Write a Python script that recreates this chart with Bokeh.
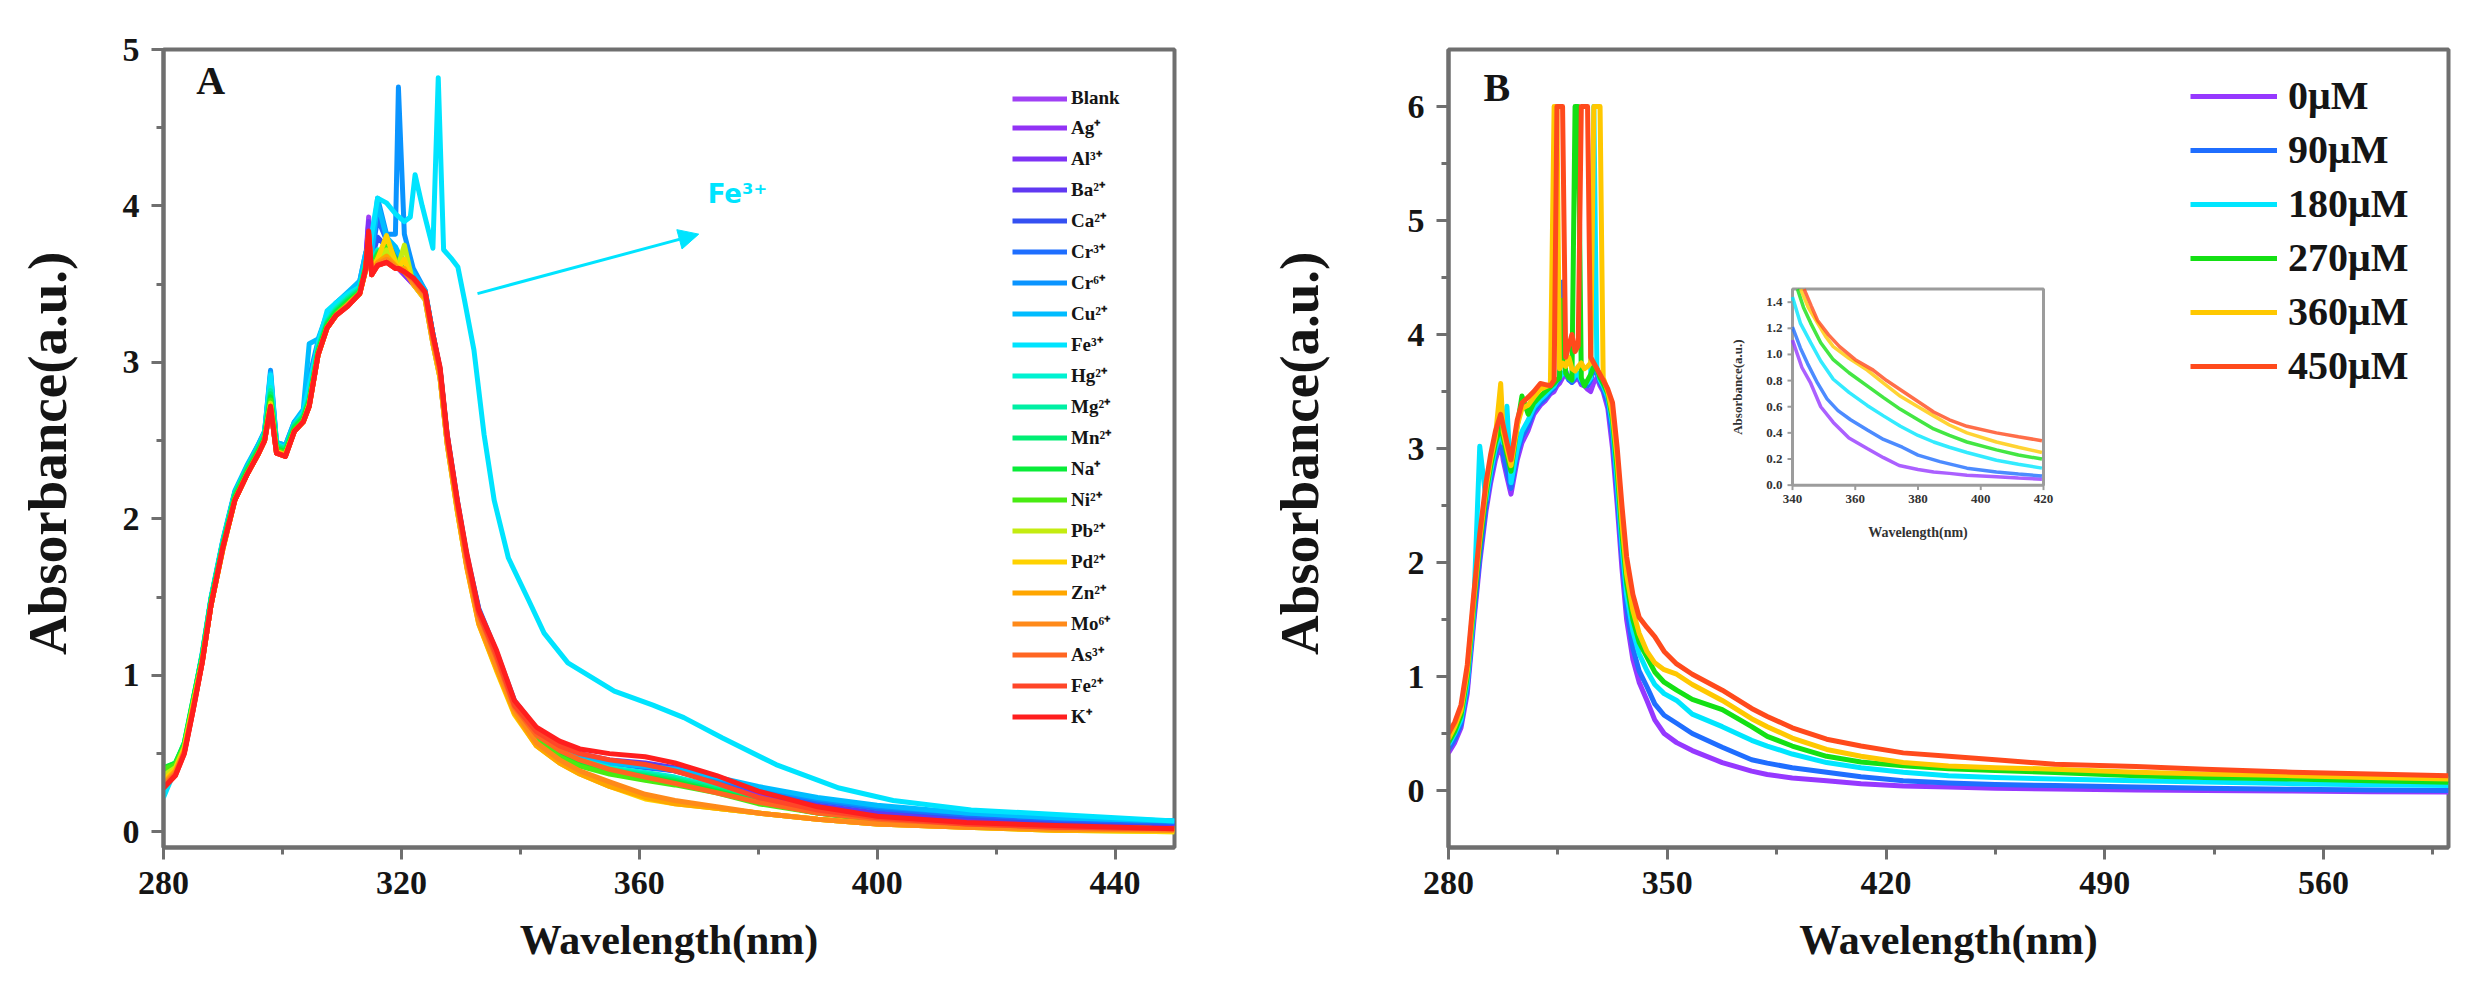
import math
from bokeh.plotting import figure
from bokeh.models import Range1d, FixedTicker, Legend, LegendItem, Arrow, NormalHead, Label
from bokeh.layouts import row
from bokeh.embed import file_html
from bokeh.resources import INLINE
from bokeh.core.properties import value

SERIF = "Liberation Serif"
AXIS_GRAY = "#6f6f6f"
TEXT_DARK = "#151515"
PAGE_H = 1004

# ---------------- Panel A: response to different metal ions ----------------
WL_A = [280, 282, 283.5, 285, 286.5, 288, 290, 292, 294, 296, 297, 298, 299, 300.5, 302, 303.5, 304.5, 306, 307.5, 309, 311, 313,
        314, 314.5, 315, 316, 317.5, 319, 319.5, 320.5, 322, 324, 325.3, 326.5, 327.7, 329.4,
        331, 333, 336, 339, 342.7, 346.6, 350, 355, 361, 366, 373, 380, 390, 400, 415, 430, 450]

A_BLANK = [0.30, 0.38, 0.52, 0.80, 1.10, 1.47, 1.84, 2.14, 2.30, 2.44, 2.52, 2.80, 2.45, 2.43, 2.58, 2.64, 2.75, 3.08, 3.25, 3.33, 3.40, 3.47,
           3.66, 3.93, 3.62, 3.70, 3.66, 3.62, 3.60, 3.56, 3.50, 3.40, 3.12, 2.90, 2.48, 2.06,
           1.70, 1.36, 1.08, 0.79, 0.61, 0.53, 0.48, 0.44, 0.42, 0.39, 0.32, 0.24, 0.16, 0.11, 0.07, 0.05, 0.04]
A_AG = [0.29, 0.37, 0.51, 0.79, 1.09, 1.46, 1.83, 2.13, 2.29, 2.43, 2.51, 2.78, 2.44, 2.42, 2.57, 2.63, 2.74, 3.07, 3.24, 3.32, 3.39, 3.46,
        3.64, 3.88, 3.60, 3.68, 3.65, 3.61, 3.60, 3.56, 3.50, 3.41, 3.14, 2.91, 2.49, 2.07,
        1.71, 1.37, 1.09, 0.80, 0.62, 0.54, 0.48, 0.44, 0.42, 0.39, 0.32, 0.24, 0.15, 0.10, 0.06, 0.04, 0.03]
A_AL = [0.30, 0.38, 0.52, 0.80, 1.10, 1.46, 1.83, 2.14, 2.30, 2.44, 2.52, 2.79, 2.45, 2.42, 2.57, 2.64, 2.76, 3.09, 3.25, 3.33, 3.40, 3.47,
        3.64, 3.90, 3.61, 3.69, 3.66, 3.62, 3.61, 3.57, 3.51, 3.42, 3.16, 2.93, 2.51, 2.09,
        1.73, 1.39, 1.11, 0.81, 0.63, 0.55, 0.49, 0.45, 0.43, 0.40, 0.33, 0.25, 0.16, 0.11, 0.07, 0.05, 0.04]
A_BA = [0.31, 0.39, 0.53, 0.81, 1.11, 1.47, 1.84, 2.15, 2.31, 2.45, 2.53, 2.82, 2.46, 2.44, 2.59, 2.65, 2.78, 3.10, 3.26, 3.34, 3.41, 3.48,
        3.65, 3.80, 3.63, 3.71, 3.70, 3.64, 3.62, 3.58, 3.52, 3.43, 3.17, 2.94, 2.52, 2.10,
        1.75, 1.40, 1.12, 0.82, 0.64, 0.55, 0.50, 0.46, 0.44, 0.41, 0.34, 0.26, 0.17, 0.12, 0.08, 0.06, 0.05]
A_CA = [0.32, 0.40, 0.54, 0.82, 1.12, 1.48, 1.85, 2.16, 2.32, 2.46, 2.54, 2.86, 2.47, 2.45, 2.60, 2.66, 2.80, 3.11, 3.28, 3.35, 3.42, 3.49,
        3.66, 3.78, 3.66, 3.80, 3.74, 3.68, 3.66, 3.60, 3.54, 3.44, 3.18, 2.95, 2.53, 2.11,
        1.76, 1.42, 1.14, 0.83, 0.65, 0.54, 0.49, 0.45, 0.43, 0.40, 0.33, 0.27, 0.20, 0.15, 0.10, 0.07, 0.06]
A_CR3 = [0.33, 0.41, 0.55, 0.83, 1.13, 1.49, 1.86, 2.17, 2.33, 2.47, 2.55, 2.90, 2.48, 2.46, 2.61, 2.67, 2.84, 3.12, 3.29, 3.36, 3.43, 3.50,
         3.68, 3.76, 3.68, 3.92, 3.78, 3.72, 3.70, 3.64, 3.56, 3.45, 3.18, 2.96, 2.54, 2.12,
         1.77, 1.43, 1.15, 0.84, 0.66, 0.53, 0.48, 0.44, 0.41, 0.39, 0.33, 0.27, 0.20, 0.15, 0.11, 0.08, 0.06]
A_CR6 = [0.33, 0.41, 0.55, 0.83, 1.13, 1.49, 1.86, 2.17, 2.33, 2.48, 2.56, 2.95, 2.49, 2.47, 2.62, 2.68, 2.90, 3.14, 3.30, 3.38, 3.44, 3.52,
         3.70, 3.75, 3.72, 4.05, 3.82, 3.82, 4.76, 3.82, 3.60, 3.46, 3.18, 2.95, 2.52, 2.10,
         1.75, 1.41, 1.13, 0.83, 0.65, 0.52, 0.47, 0.44, 0.42, 0.40, 0.34, 0.28, 0.21, 0.16, 0.12, 0.09, 0.07]
A_CU = [0.34, 0.42, 0.56, 0.84, 1.14, 1.50, 1.87, 2.18, 2.34, 2.48, 2.56, 2.93, 2.49, 2.47, 2.62, 2.70, 3.12, 3.15, 3.31, 3.38, 3.45, 3.52,
        3.70, 3.74, 3.70, 4.02, 3.80, 3.74, 3.70, 3.64, 3.57, 3.46, 3.18, 2.95, 2.52, 2.10,
        1.74, 1.40, 1.12, 0.82, 0.64, 0.52, 0.47, 0.44, 0.42, 0.40, 0.35, 0.29, 0.22, 0.17, 0.12, 0.09, 0.07]
A_HG = [0.36, 0.42, 0.56, 0.84, 1.13, 1.49, 1.85, 2.16, 2.32, 2.46, 2.54, 2.84, 2.47, 2.45, 2.60, 2.66, 2.78, 3.10, 3.27, 3.35, 3.42, 3.48,
        3.64, 3.72, 3.64, 3.72, 3.70, 3.64, 3.62, 3.58, 3.52, 3.43, 3.16, 2.93, 2.51, 2.09,
        1.74, 1.39, 1.10, 0.80, 0.62, 0.52, 0.46, 0.41, 0.38, 0.35, 0.29, 0.21, 0.14, 0.09, 0.05, 0.03, 0.02]
A_MG = [0.38, 0.43, 0.57, 0.85, 1.13, 1.49, 1.85, 2.16, 2.32, 2.46, 2.54, 2.82, 2.47, 2.45, 2.60, 2.66, 2.77, 3.09, 3.26, 3.34, 3.41, 3.47,
        3.63, 3.74, 3.63, 3.71, 3.72, 3.64, 3.62, 3.58, 3.52, 3.43, 3.16, 2.93, 2.51, 2.09,
        1.73, 1.38, 1.09, 0.79, 0.61, 0.51, 0.45, 0.40, 0.37, 0.34, 0.28, 0.20, 0.13, 0.08, 0.05, 0.03, 0.02]
A_MN = [0.40, 0.44, 0.57, 0.85, 1.12, 1.48, 1.84, 2.15, 2.31, 2.45, 2.53, 2.80, 2.46, 2.44, 2.59, 2.65, 2.76, 3.08, 3.25, 3.33, 3.40, 3.46,
        3.62, 3.76, 3.62, 3.70, 3.74, 3.66, 3.62, 3.58, 3.52, 3.43, 3.16, 2.93, 2.51, 2.09,
        1.73, 1.38, 1.09, 0.79, 0.61, 0.50, 0.44, 0.39, 0.36, 0.33, 0.27, 0.20, 0.13, 0.08, 0.05, 0.03, 0.02]
A_NA = [0.41, 0.44, 0.56, 0.84, 1.11, 1.47, 1.83, 2.14, 2.30, 2.44, 2.52, 2.78, 2.45, 2.43, 2.58, 2.64, 2.75, 3.07, 3.24, 3.32, 3.39, 3.45,
        3.61, 3.78, 3.61, 3.69, 3.76, 3.66, 3.62, 3.58, 3.52, 3.43, 3.16, 2.93, 2.51, 2.09,
        1.72, 1.37, 1.08, 0.78, 0.60, 0.49, 0.43, 0.38, 0.35, 0.32, 0.26, 0.19, 0.12, 0.08, 0.05, 0.03, 0.02]
A_NI = [0.40, 0.43, 0.55, 0.83, 1.10, 1.46, 1.82, 2.13, 2.29, 2.43, 2.51, 2.76, 2.44, 2.42, 2.57, 2.63, 2.74, 3.06, 3.23, 3.31, 3.38, 3.45,
        3.60, 3.80, 3.60, 3.68, 3.78, 3.66, 3.62, 3.60, 3.52, 3.43, 3.16, 2.93, 2.51, 2.09,
        1.72, 1.37, 1.08, 0.78, 0.59, 0.48, 0.42, 0.37, 0.33, 0.30, 0.25, 0.18, 0.12, 0.07, 0.04, 0.02, 0.01]
A_PB = [0.36, 0.41, 0.54, 0.82, 1.09, 1.45, 1.81, 2.12, 2.28, 2.42, 2.50, 2.74, 2.43, 2.41, 2.56, 2.62, 2.73, 3.05, 3.22, 3.30, 3.37, 3.44,
        3.59, 3.78, 3.58, 3.66, 3.72, 3.64, 3.62, 3.75, 3.50, 3.40, 3.12, 2.90, 2.48, 2.05,
        1.70, 1.34, 1.04, 0.76, 0.56, 0.45, 0.38, 0.30, 0.22, 0.19, 0.15, 0.12, 0.08, 0.05, 0.03, 0.01, 0.00]
A_PD = [0.33, 0.40, 0.53, 0.81, 1.09, 1.45, 1.81, 2.12, 2.28, 2.42, 2.50, 2.73, 2.43, 2.41, 2.56, 2.62, 2.73, 3.05, 3.22, 3.30, 3.37, 3.44,
        3.59, 3.80, 3.58, 3.66, 3.81, 3.64, 3.60, 3.66, 3.50, 3.40, 3.12, 2.90, 2.48, 2.05,
        1.69, 1.33, 1.03, 0.75, 0.55, 0.44, 0.37, 0.29, 0.21, 0.18, 0.15, 0.12, 0.08, 0.05, 0.03, 0.01, 0.00]
A_ZN = [0.31, 0.39, 0.52, 0.80, 1.09, 1.45, 1.81, 2.12, 2.28, 2.42, 2.50, 2.72, 2.42, 2.41, 2.56, 2.62, 2.72, 3.05, 3.22, 3.30, 3.37, 3.44,
        3.59, 3.80, 3.57, 3.64, 3.68, 3.62, 3.60, 3.60, 3.50, 3.41, 3.13, 2.91, 2.49, 2.06,
        1.69, 1.33, 1.04, 0.76, 0.55, 0.44, 0.37, 0.29, 0.22, 0.18, 0.15, 0.12, 0.08, 0.05, 0.03, 0.01, 0.01]
A_MO = [0.30, 0.38, 0.51, 0.79, 1.08, 1.45, 1.81, 2.12, 2.28, 2.42, 2.50, 2.72, 2.42, 2.40, 2.56, 2.62, 2.72, 3.05, 3.22, 3.30, 3.37, 3.44,
        3.59, 3.82, 3.56, 3.63, 3.66, 3.61, 3.60, 3.58, 3.51, 3.42, 3.14, 2.93, 2.50, 2.08,
        1.71, 1.35, 1.06, 0.78, 0.57, 0.46, 0.39, 0.32, 0.24, 0.20, 0.16, 0.12, 0.08, 0.05, 0.03, 0.02, 0.01]
A_AS = [0.29, 0.37, 0.51, 0.79, 1.08, 1.45, 1.82, 2.12, 2.28, 2.42, 2.50, 2.72, 2.42, 2.40, 2.56, 2.62, 2.72, 3.05, 3.22, 3.30, 3.36, 3.44,
        3.60, 3.82, 3.56, 3.62, 3.64, 3.60, 3.60, 3.58, 3.53, 3.44, 3.16, 2.95, 2.52, 2.10,
        1.75, 1.39, 1.11, 0.80, 0.62, 0.52, 0.46, 0.40, 0.35, 0.31, 0.25, 0.19, 0.12, 0.08, 0.05, 0.03, 0.02]
A_FE2 = [0.28, 0.36, 0.50, 0.78, 1.08, 1.45, 1.82, 2.12, 2.28, 2.42, 2.50, 2.71, 2.42, 2.40, 2.56, 2.62, 2.72, 3.05, 3.22, 3.30, 3.36, 3.44,
         3.60, 3.83, 3.56, 3.62, 3.64, 3.60, 3.60, 3.58, 3.54, 3.45, 3.17, 2.96, 2.53, 2.11,
         1.76, 1.40, 1.13, 0.81, 0.64, 0.55, 0.50, 0.46, 0.43, 0.39, 0.31, 0.22, 0.14, 0.09, 0.05, 0.03, 0.02]
A_K = [0.28, 0.36, 0.50, 0.78, 1.08, 1.45, 1.82, 2.12, 2.28, 2.42, 2.50, 2.72, 2.42, 2.40, 2.56, 2.62, 2.72, 3.05, 3.22, 3.30, 3.36, 3.44,
       3.60, 3.84, 3.56, 3.62, 3.64, 3.60, 3.60, 3.58, 3.54, 3.45, 3.18, 2.97, 2.54, 2.12,
       1.78, 1.42, 1.16, 0.84, 0.67, 0.58, 0.53, 0.50, 0.48, 0.44, 0.36, 0.26, 0.16, 0.10, 0.06, 0.04, 0.02]

# Fe3+ is sampled on its own, finer grid around its sharp peaks
WL_FE3 = [280, 282, 283.5, 285, 286.5, 288, 290, 292, 294, 296, 297, 298, 299, 300.5, 302, 303.5, 304.5, 306, 307.5, 309, 311, 313,
          314.5, 316, 317.5, 319, 320.5, 321.5, 322.3, 323.5, 325.3, 326.2, 327.1, 328.5, 329.5, 330.6, 332.2, 333.9, 335.6, 338,
          341.4, 344, 348, 355.8, 362.3, 367.5, 374, 383, 393.6, 402.7, 415.8, 435.5, 450]
A_FE3 = [0.22, 0.40, 0.55, 0.82, 1.12, 1.48, 1.86, 2.16, 2.32, 2.46, 2.55, 2.92, 2.48, 2.45, 2.60, 2.68, 2.85, 3.12, 3.33, 3.38, 3.44, 3.48,
         3.70, 4.05, 4.02, 3.95, 3.90, 3.93, 4.20, 4.00, 3.73, 4.82, 3.72, 3.66, 3.61, 3.40, 3.08, 2.54, 2.12, 1.75,
         1.48, 1.27, 1.08, 0.90, 0.81, 0.73, 0.60, 0.43, 0.28, 0.20, 0.14, 0.10, 0.07]

ION_LABELS = ["Blank", "Ag⁺", "Al³⁺", "Ba²⁺", "Ca²⁺", "Cr³⁺", "Cr⁶⁺", "Cu²⁺", "Fe³⁺", "Hg²⁺", "Mg²⁺",
              "Mn²⁺", "Na⁺", "Ni²⁺", "Pb²⁺", "Pd²⁺", "Zn²⁺", "Mo⁶⁺", "As³⁺", "Fe²⁺", "K⁺"]
ION_SERIES = [A_BLANK, A_AG, A_AL, A_BA, A_CA, A_CR3, A_CR6, A_CU, A_FE3, A_HG, A_MG,
              A_MN, A_NA, A_NI, A_PB, A_PD, A_ZN, A_MO, A_AS, A_FE2, A_K]
ION_COLORS = ["#A040F5", "#9232F5", "#7E32F5", "#6038F2", "#3450F2", "#1E6EFF", "#0A94FF", "#00BCFF", "#00E4FF",
              "#00F2D2", "#00F0A4", "#00EE74", "#08EC38", "#48EC12", "#C4EC10", "#FFD200", "#FFA600", "#FF8A1A",
              "#FF6622", "#FF4628", "#FF1E1E"]

A_XTICKS = [280, 320, 360, 400, 440]
A_XMINOR = [300, 340, 380, 420]
A_YTICKS = [0, 1, 2, 3, 4, 5]
A_YMINOR = [0.5, 1.5, 2.5, 3.5, 4.5]

# ---------------- Panel B: Fe3+ titration ----------------
WL_B = [280, 282, 284, 286, 288, 290, 292, 293.5, 295, 296.7,
        297.5, 298.7, 300, 302, 303.5, 305.5, 307.3, 309.4, 311, 312.6,
        313.8, 314.7, 315.5, 316.5, 317.5, 318.5, 319.5, 320.5, 321.5, 322.5,
        323.5, 324.5, 325.5, 326.5, 327.5, 328.5, 329.5, 331, 332.5, 334,
        335.5, 337, 339, 341, 343.5, 346, 349, 353, 358, 367.6,
        377, 382, 390, 401, 412, 425.5, 440, 455, 474, 500,
        522, 550, 575, 600]
B_0UM = [0.33, 0.42, 0.55, 0.85, 1.45, 2.00, 2.45, 2.70, 2.90, 3.05,
         2.90, 2.75, 2.60, 2.90, 3.05, 3.16, 3.30, 3.38, 3.42, 3.48,
         3.50, 3.55, 3.57, 3.62, 3.68, 3.62, 3.58, 3.60, 3.62, 3.56,
         3.55, 3.52, 3.50, 3.58, 3.62, 3.55, 3.50, 3.35, 3.00, 2.50,
         1.95, 1.50, 1.15, 0.95, 0.79, 0.62, 0.50, 0.42, 0.35, 0.245,
         0.17, 0.14, 0.11, 0.086, 0.06, 0.04, 0.03, 0.02, 0.014, 0.005,
         0.0, -0.005, -0.01, -0.014]
B_90UM = [0.36, 0.45, 0.58, 0.90, 1.50, 2.05, 2.50, 2.75, 2.95, 3.10,
          2.95, 2.80, 2.65, 2.95, 3.10, 3.20, 3.33, 3.40, 3.44, 3.50,
          3.53, 3.58, 3.60, 4.46, 3.65, 3.60, 3.58, 3.62, 3.65, 3.58,
          3.56, 3.55, 3.60, 3.70, 3.66, 3.58, 3.52, 3.40, 3.10, 2.60,
          2.05, 1.60, 1.25, 1.05, 0.91, 0.76, 0.66, 0.59, 0.50, 0.38,
          0.27, 0.24, 0.20, 0.16, 0.12, 0.086, 0.065, 0.052, 0.043, 0.03,
          0.02, 0.01, 0.005, 0.0]
B_180UM = [0.40, 0.50, 0.62, 0.95, 1.55, 3.02, 2.55, 2.80, 3.00, 3.15,
           3.05, 3.37, 2.70, 3.00, 3.15, 3.25, 3.36, 3.43, 3.47, 3.52,
           3.55, 3.60, 3.62, 3.66, 3.66, 3.62, 3.60, 3.64, 3.66, 3.60,
           3.58, 3.58, 3.62, 6.00, 3.70, 3.60, 3.55, 3.45, 3.20, 2.70,
           2.15, 1.72, 1.40, 1.20, 1.05, 0.93, 0.85, 0.79, 0.67, 0.56,
           0.44, 0.39, 0.32, 0.245, 0.20, 0.16, 0.13, 0.115, 0.10, 0.085,
           0.075, 0.06, 0.05, 0.043]
B_270UM = [0.42, 0.52, 0.66, 1.00, 1.60, 2.15, 2.60, 2.85, 3.05, 3.20,
           3.10, 2.95, 2.80, 3.20, 3.46, 3.30, 3.40, 3.46, 3.50, 3.54,
           3.57, 3.60, 3.62, 4.30, 3.66, 3.62, 3.60, 6.00, 6.00, 3.62,
           3.55, 3.60, 3.65, 3.72, 3.70, 3.62, 3.57, 3.48, 3.25, 2.80,
           2.25, 1.82, 1.50, 1.30, 1.17, 1.04, 0.95, 0.88, 0.80, 0.71,
           0.56, 0.475, 0.39, 0.30, 0.25, 0.216, 0.19, 0.175, 0.158, 0.13,
           0.115, 0.10, 0.085, 0.072]
B_360UM = [0.45, 0.56, 0.70, 1.05, 1.65, 2.20, 2.65, 2.90, 3.10, 3.57,
           3.15, 3.00, 2.85, 3.20, 3.35, 3.38, 3.45, 3.52, 3.54, 3.56,
           6.00, 6.00, 3.70, 3.75, 3.72, 3.80, 3.70, 3.68, 3.72, 3.75,
           3.70, 3.72, 3.75, 6.00, 6.00, 6.00, 3.62, 3.50, 3.30, 2.90,
           2.35, 1.90, 1.58, 1.38, 1.22, 1.12, 1.06, 1.02, 0.93, 0.79,
           0.63, 0.56, 0.46, 0.36, 0.30, 0.245, 0.215, 0.20, 0.187, 0.16,
           0.145, 0.13, 0.115, 0.10]
B_450UM = [0.50, 0.60, 0.75, 1.10, 1.70, 2.25, 2.70, 2.95, 3.15, 3.30,
           3.20, 3.05, 2.90, 3.25, 3.40, 3.45, 3.50, 3.57, 3.56, 3.55,
           3.60, 6.00, 6.00, 6.00, 3.80, 3.90, 4.00, 3.85, 3.90, 6.00,
           6.00, 6.00, 3.80, 3.75, 3.70, 3.65, 3.60, 3.52, 3.40, 3.00,
           2.50, 2.05, 1.72, 1.52, 1.43, 1.35, 1.22, 1.11, 1.02, 0.88,
           0.72, 0.65, 0.55, 0.45, 0.39, 0.33, 0.30, 0.27, 0.23, 0.21,
           0.187, 0.16, 0.145, 0.13]

CONC_LABELS = ["0μM", "90μM", "180μM", "270μM", "360μM", "450μM"]
CONC_SERIES = [B_0UM, B_90UM, B_180UM, B_270UM, B_360UM, B_450UM]
CONC_COLORS = ["#9638FF", "#1F6EFF", "#00E6FF", "#14E014", "#FFC800", "#FF4A1C"]

B_XTICKS = [280, 350, 420, 490, 560]
B_XMINOR = [315, 385, 455, 525, 595]
B_YTICKS = [0, 1, 2, 3, 4, 5, 6]
B_YMINOR = [0.5, 1.5, 2.5, 3.5, 4.5, 5.5]

# Inset: zoom on the 340-420 nm tail
INSET_WL = [
    [340, 343, 345.8, 349, 353, 358, 363.8, 369, 374, 380, 385, 390, 395.6, 405, 412, 419.5],
    [340, 342.5, 344.8, 348, 351, 354.5, 358.5, 364, 369, 375, 380, 387, 395.6, 405, 412, 419.5],
    [340, 342.5, 345.8, 349, 353, 358, 363.8, 369, 374.4, 380, 385, 390, 395.6, 405, 412, 419.5],
    [341.6, 343.5, 345.8, 349, 353, 358, 363.8, 369, 374.4, 380, 385, 390, 395.6, 405, 412, 419.5],
    [342.6, 345, 348, 350.5, 353, 358, 363.8, 369, 374.4, 380, 385, 390, 395.6, 405, 412, 419.5],
    [343.7, 346, 348, 351.5, 355, 360, 365.7, 370, 374.4, 380, 385, 390, 395.6, 405, 412, 419.5],
]
INSET_ABS = [
    [1.11, 0.90, 0.78, 0.60, 0.48, 0.36, 0.28, 0.21, 0.15, 0.12, 0.10, 0.09, 0.076, 0.065, 0.055, 0.045],
    [1.21, 1.05, 0.93, 0.78, 0.66, 0.57, 0.50, 0.42, 0.35, 0.29, 0.23, 0.18, 0.13, 0.10, 0.085, 0.07],
    [1.44, 1.24, 1.09, 0.95, 0.81, 0.71, 0.61, 0.53, 0.45, 0.38, 0.33, 0.29, 0.25, 0.19, 0.16, 0.13],
    [1.50, 1.36, 1.24, 1.09, 0.96, 0.86, 0.76, 0.67, 0.58, 0.50, 0.43, 0.38, 0.33, 0.27, 0.23, 0.20],
    [1.50, 1.36, 1.24, 1.14, 1.06, 0.97, 0.88, 0.78, 0.68, 0.60, 0.53, 0.46, 0.40, 0.33, 0.29, 0.25],
    [1.50, 1.37, 1.26, 1.15, 1.06, 0.96, 0.88, 0.80, 0.73, 0.64, 0.56, 0.50, 0.45, 0.40, 0.37, 0.34],
]
INSET_XTICKS = [340, 360, 380, 400, 420]
INSET_YTICKS = [0.0, 0.2, 0.4, 0.6, 0.8, 1.0, 1.2, 1.4]
INSET_X_RANGE = (340, 420)
INSET_Y_RANGE = (0.0, 1.5)


def style_axes(p, xt, xm, yt, ym):
    p.xgrid.visible = False
    p.ygrid.visible = False
    p.outline_line_color = AXIS_GRAY
    p.outline_line_width = 4
    p.outline_line_alpha = 1.0
    p.background_fill_color = "white"
    p.border_fill_color = "white"
    p.xaxis.ticker = FixedTicker(ticks=xt, minor_ticks=xm)
    p.yaxis.ticker = FixedTicker(ticks=yt, minor_ticks=ym)
    for ax in (p.xaxis[0], p.yaxis[0]):
        ax.axis_line_color = AXIS_GRAY
        ax.axis_line_width = 4
        ax.major_tick_line_color = AXIS_GRAY
        ax.major_tick_line_width = 3
        ax.major_tick_in = 0
        ax.major_tick_out = 12
        ax.minor_tick_line_color = AXIS_GRAY
        ax.minor_tick_line_width = 3
        ax.minor_tick_in = 0
        ax.minor_tick_out = 7
        ax.major_label_text_font = SERIF
        ax.major_label_text_font_style = "bold"
        ax.major_label_text_font_size = "34px"
        ax.major_label_text_color = TEXT_DARK
        ax.major_label_standoff = 12
    xa = p.xaxis[0]
    xa.axis_label_text_font = SERIF
    xa.axis_label_text_font_style = "bold"
    xa.axis_label_text_color = TEXT_DARK
    xa.axis_label_text_font_size = "42px"
    xa.axis_label_standoff = 20


def y_title_strip(width, x_center, y_anchor_from_top):
    """Narrow strip beside a panel carrying its rotated y-axis title."""
    s = figure(width=width, height=PAGE_H, output_backend="svg", toolbar_location=None,
               x_range=Range1d(0, width), y_range=Range1d(0, PAGE_H),
               x_axis_type=None, y_axis_type=None, min_border=0)
    s.xgrid.visible = False
    s.ygrid.visible = False
    s.outline_line_color = None
    s.background_fill_color = "white"
    s.border_fill_color = "white"
    s.text(x=[x_center], y=[PAGE_H - y_anchor_from_top], text=["Absorbance(a.u.)"],
           angle=math.pi / 2, text_align="center", text_baseline="middle",
           text_font=value(SERIF), text_font_style="bold", text_font_size="55px",
           text_color=TEXT_DARK)
    return s


# ---------------- build panel A ----------------
title_a = y_title_strip(100, 47, 508)
pa = figure(width=1154, height=PAGE_H, output_backend="svg", toolbar_location=None,
            x_range=Range1d(280, 450), y_range=Range1d(-0.1, 5.0),
            min_border_left=63, min_border_right=80, min_border_top=49, min_border_bottom=157,
            x_axis_label="Wavelength(nm)")
style_axes(pa, A_XTICKS, A_XMINOR, A_YTICKS, A_YMINOR)

items_a = []
for label, ys, color in zip(ION_LABELS, ION_SERIES, ION_COLORS):
    xs = WL_FE3 if label == "Fe³⁺" else WL_A
    r = pa.line(xs, ys, line_color=color, line_width=5, line_join="round")
    items_a.append(LegendItem(label=label, renderers=[r]))

legend_a = Legend(items=items_a, location=(849, 118), orientation="vertical",
                  glyph_width=55, glyph_height=21, label_height=21, spacing=5,
                  label_standoff=4, padding=0, margin=0,
                  label_text_font=SERIF, label_text_font_style="bold",
                  label_text_font_size="19px", label_text_color=TEXT_DARK,
                  border_line_color=None, background_fill_alpha=0)
pa.add_layout(legend_a)

FE3_CYAN = "#00E4FF"
pa.add_layout(Arrow(end=NormalHead(size=20, fill_color=FE3_CYAN, line_color=FE3_CYAN),
                    x_start=332.8, y_start=3.44, x_end=370.0, y_end=3.82,
                    line_color=FE3_CYAN, line_width=3))
pa.add_layout(Label(x=371.5, y=3.98, text="Fe³⁺", text_font="DejaVu Sans",
                    text_font_style="bold", text_font_size="26px", text_color=FE3_CYAN))
pa.add_layout(Label(x=285.5, y=4.66, text="A", text_font=SERIF, text_font_style="bold",
                    text_font_size="40px", text_color=TEXT_DARK))

# ---------------- build panel B ----------------
title_b = y_title_strip(90, 45, 508)
pb = figure(width=1133, height=PAGE_H, output_backend="svg", toolbar_location=None,
            x_range=Range1d(280, 600), y_range=Range1d(-0.5, 6.5),
            min_border_left=104, min_border_right=29, min_border_top=43, min_border_bottom=155,
            x_axis_label="Wavelength(nm)")
style_axes(pb, B_XTICKS, B_XMINOR, B_YTICKS, B_YMINOR)

items_b = []
for label, ys, color in zip(CONC_LABELS, CONC_SERIES, CONC_COLORS):
    r = pb.line(WL_B, ys, line_color=color, line_width=5, line_join="round")
    items_b.append(LegendItem(label=label, renderers=[r]))

legend_b = Legend(items=items_b, location=(742, 458), orientation="vertical",
                  glyph_width=87, glyph_height=40, label_height=40, spacing=7,
                  label_standoff=11, padding=0, margin=0,
                  label_text_font=SERIF, label_text_font_style="bold",
                  label_text_font_size="40px", label_text_color=TEXT_DARK,
                  border_line_color=None, background_fill_alpha=0)
pb.add_layout(legend_b)
pb.add_layout(Label(x=291.2, y=5.97, text="B", text_font=SERIF, text_font_style="bold",
                    text_font_size="40px", text_color=TEXT_DARK))

# inset: its own scales, laid over a sub-rectangle of panel B's frame
FRAME_W, FRAME_H = 1000, 806
INSET_BOX = (344, 595, 366, 564)   # left, right, bottom, top in frame pixels
ix0, ix1 = INSET_X_RANGE
iy0, iy1 = INSET_Y_RANGE
sx = (ix1 - ix0) / (INSET_BOX[1] - INSET_BOX[0])
sy = (iy1 - iy0) / (INSET_BOX[3] - INSET_BOX[2])
pb.extra_x_ranges = {"ix": Range1d(ix0 - INSET_BOX[0] * sx, ix1 + (FRAME_W - INSET_BOX[1]) * sx)}
pb.extra_y_ranges = {"iy": Range1d(iy0 - INSET_BOX[2] * sy, iy1 + (FRAME_H - INSET_BOX[3]) * sy)}
ir = dict(x_range_name="ix", y_range_name="iy")

pb.quad(left=[ix0], right=[ix1], bottom=[iy0], top=[iy1], fill_color="white",
        line_color="#9c9c9c", line_width=3, **ir)
for xs, ys, color in zip(INSET_WL, INSET_ABS, CONC_COLORS):
    pb.line(xs, ys, line_color=color, line_width=3.5, line_alpha=0.8, **ir)

tick_dx = 5 * sx
tick_dy = 5 * sy
pb.segment(x0=[ix0] * len(INSET_YTICKS), y0=INSET_YTICKS, x1=[ix0 - tick_dx] * len(INSET_YTICKS),
           y1=INSET_YTICKS, line_color="#9c9c9c", line_width=2, **ir)
pb.segment(x0=INSET_XTICKS, y0=[iy0] * len(INSET_XTICKS), x1=INSET_XTICKS,
           y1=[iy0 - tick_dy] * len(INSET_XTICKS), line_color="#9c9c9c", line_width=2, **ir)
pb.text(x=[ix0 - 2 * tick_dx] * len(INSET_YTICKS), y=INSET_YTICKS,
        text=[f"{v:.1f}" for v in INSET_YTICKS], text_align="right", text_baseline="middle",
        text_font=value(SERIF), text_font_style="bold", text_font_size="13px",
        text_color="#333333", **ir)
pb.text(x=INSET_XTICKS, y=[iy0 - 2 * tick_dy] * len(INSET_XTICKS),
        text=[str(v) for v in INSET_XTICKS], text_align="center", text_baseline="top",
        text_font=value(SERIF), text_font_style="bold", text_font_size="13px",
        text_color="#333333", **ir)
pb.text(x=[(ix0 + ix1) / 2], y=[iy0 - 8 * tick_dy], text=["Wavelength(nm)"],
        text_align="center", text_baseline="top", text_font=value(SERIF),
        text_font_style="bold", text_font_size="14px", text_color="#333333", **ir)
pb.text(x=[ix0 - 11 * tick_dx], y=[(iy0 + iy1) / 2], text=["Absorbance(a.u.)"],
        angle=math.pi / 2, text_align="center", text_baseline="middle", text_font=value(SERIF),
        text_font_style="bold", text_font_size="13px", text_color="#333333", **ir)

layout = row(title_a, pa, title_b, pb)
open("out.html", "w").write(file_html(layout, INLINE))
